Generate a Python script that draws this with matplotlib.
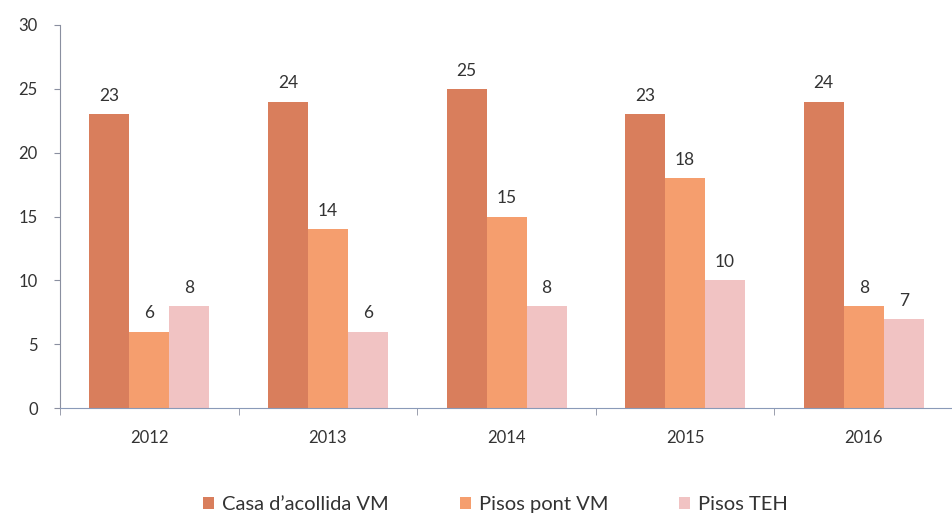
import matplotlib
matplotlib.use("Agg")
import matplotlib.pyplot as plt
import numpy as np

plt.rcParams["font.family"] = ["Lato", "DejaVu Sans"]

years = ["2012", "2013", "2014", "2015", "2016"]
casa = [23, 24, 25, 23, 24]
pisos_pont = [6, 14, 15, 18, 8]
pisos_teh = [8, 6, 8, 10, 7]
series_names = ["Casa d\u2019acollida VM", "Pisos pont VM", "Pisos TEH"]
colors = ["#D97E5C", "#F59E6E", "#F1C3C3"]

fig = plt.figure(figsize=(9.53, 5.18), dpi=100)
ax = fig.add_axes([0.063, 0.212, 0.937, 0.74])

x = np.arange(len(years))
w = 0.224
text_col = "#333333"
for i, (vals, name, col) in enumerate(zip([casa, pisos_pont, pisos_teh], series_names, colors)):
    bars = ax.bar(x + (i - 1) * w, vals, w, color=col, label=name, linewidth=0)
    for b, v in zip(bars, vals):
        ax.text(b.get_x() + b.get_width() / 2, v + 0.8, str(v), ha="center", va="bottom",
                fontsize=12.5, color=text_col)

ax.set_xlim(-0.5, len(years) - 0.5)
ax.set_ylim(0, 30)
ax.set_yticks([0, 5, 10, 15, 20, 25, 30])
ax.set_xticks(x)
ax.set_xticklabels(years)
ax.set_xticks(np.arange(len(years) + 1) - 0.5, minor=True)
ax.tick_params(axis="x", which="major", length=0, pad=16, labelsize=12, colors=text_col)
ax.tick_params(axis="x", which="minor", length=5, color="#8a8fa0")
ax.tick_params(axis="y", length=4, color="#8a8fa0", labelsize=12, labelcolor=text_col, pad=12)

for s in ["top", "right"]:
    ax.spines[s].set_visible(False)
ax.spines["left"].set_color("#8a8fa0")
ax.spines["bottom"].set_color("#8a9ab8")

fig.legend(loc="lower center", bbox_to_anchor=(0.52, -0.025), ncol=3, frameon=False,
           fontsize=14.5, handlelength=0.55, handleheight=0.55, columnspacing=3.5,
           handletextpad=0.4, labelcolor=text_col)

fig.savefig("out.png", dpi=100)
